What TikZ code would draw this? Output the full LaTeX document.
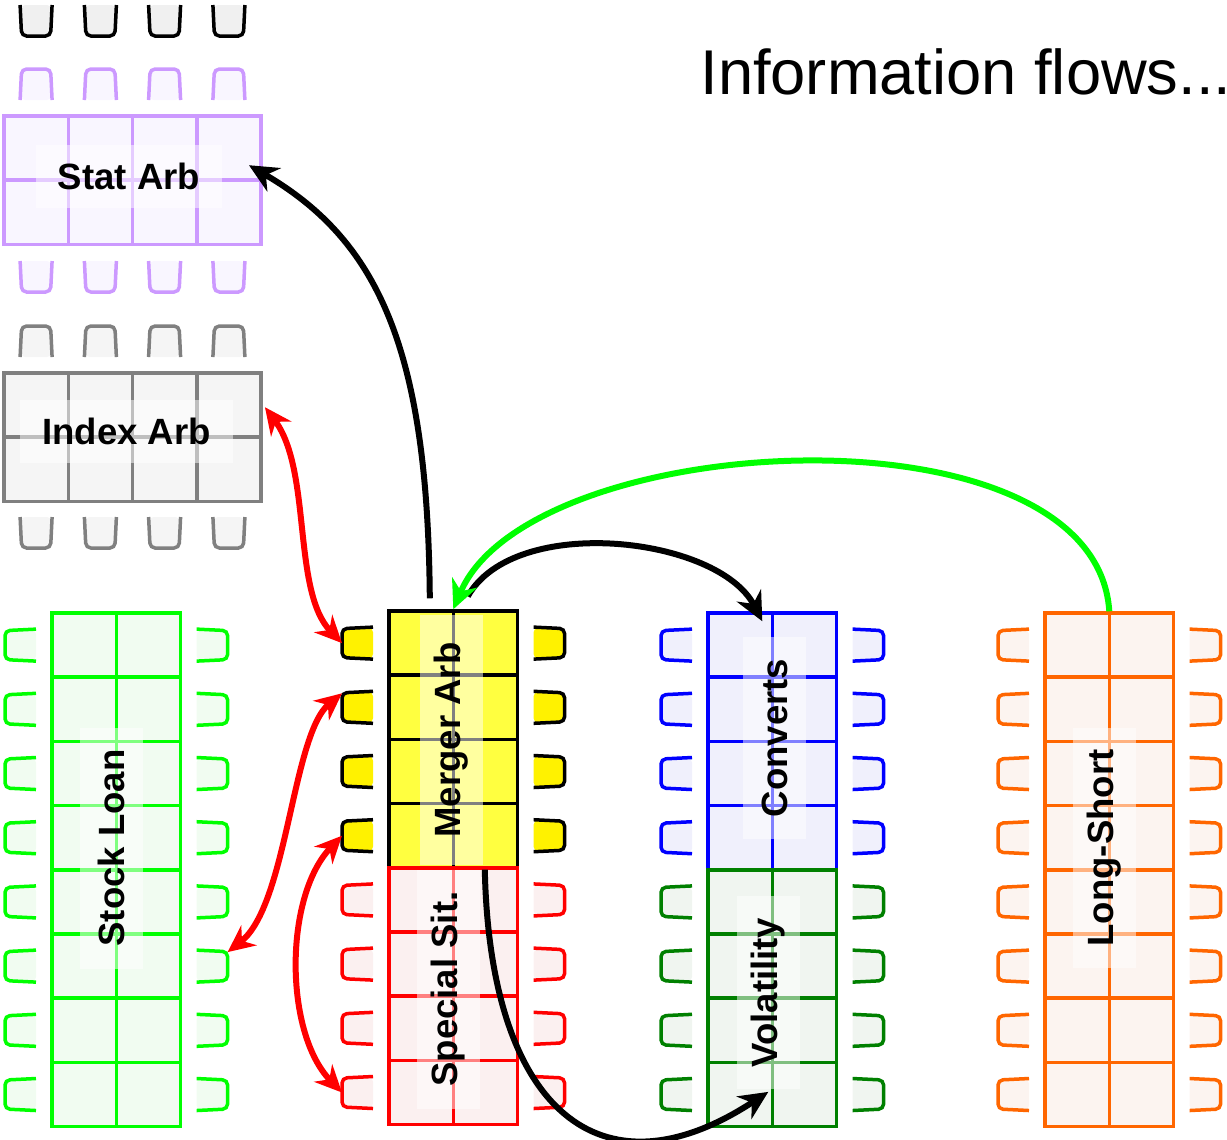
\documentclass[tikz,border=0pt]{standalone}
\usepackage{fontspec}
\setmainfont{Liberation Sans}
\usetikzlibrary{arrows.meta}

\definecolor{statline}{HTML}{CC99FF}
\definecolor{statfill}{HTML}{F9F6FF}
\definecolor{indexline}{HTML}{808080}
\definecolor{indexfill}{HTML}{F5F5F5}
\definecolor{topfill}{HTML}{F0F0F0}
\definecolor{loanline}{HTML}{00FF00}
\definecolor{loanfill}{HTML}{F1FCF1}
\definecolor{mergerfill}{HTML}{FFFF40}
\definecolor{specline}{HTML}{FF0000}
\definecolor{specfill}{HTML}{FBF0F0}
\definecolor{convline}{HTML}{0000FF}
\definecolor{convfill}{HTML}{F0F0FC}
\definecolor{volline}{HTML}{008000}
\definecolor{volfill}{HTML}{F0F5F0}
\definecolor{lsline}{HTML}{FF6600}
\definecolor{lsfill}{HTML}{FCF4F0}
\definecolor{flowgreen}{HTML}{00FF00}

\tikzset{
  desk/.style={rectangle, draw=#1, line width=0.035cm, inner sep=0pt,
    path picture={\draw[#1, line width=0.035cm] (path picture bounding box.south west)
      grid[xstep=0.643, ystep=0.642] (path picture bounding box.north east);}},
  deskname/.style={fill=white, fill opacity=0.5, text opacity=1,
    font=\bfseries\fontsize{10.4}{12}\selectfont, inner xsep=0.22cm, inner ysep=0pt,
    minimum height=0.63cm},
  pics/chair/.style 2 args={code={
    \fill[#2, rounded corners=0.05cm] (0,0.16) -- (-0.31,0.145) -- (-0.31,-0.145) -- (0,-0.16) -- cycle;
    \draw[#1, line width=0.035cm, rounded corners=0.05cm] (0,0.16) -- (-0.31,0.145) -- (-0.31,-0.145) -- (0,-0.16);
    \coordinate (-b) at (-0.31,0);
    \coordinate (-b1) at (-0.31,0.14);
    \coordinate (-b2) at (-0.31,-0.14);
  }},
  flow/.style={line width=0.06cm, -{Stealth[length=0.29cm, width=0.27cm]}},
  link/.style={specline, line width=0.06cm,
    {Stealth[length=0.27cm, width=0.25cm]}-{Stealth[length=0.27cm, width=0.25cm]}}
}

\begin{document}
\begin{tikzpicture}
  \useasboundingbox (0,0) rectangle (12.27,-11.39);

  % desks
  \node[desk=statline, fill=statfill, minimum width=2.572cm, minimum height=1.284cm] (statarb) at (1.326,-1.802) {};
  \node[desk=indexline, fill=indexfill, minimum width=2.572cm, minimum height=1.284cm] (index) at (1.326,-4.372) {};
  \node[desk=loanline, fill=loanfill, minimum width=1.286cm, minimum height=5.136cm] (loan) at (1.163,-8.698) {};
  \node[desk=black, fill=mergerfill, minimum width=1.286cm, minimum height=2.568cm] (merger) at (4.533,-7.394) {};
  \node[desk=specline, fill=specfill, minimum width=1.286cm, minimum height=2.568cm] (spec) at (4.533,-9.962) {};
  \node[desk=convline, fill=convfill, minimum width=1.286cm, minimum height=2.568cm] (conv) at (7.723,-7.414) {};
  \node[desk=volline, fill=volfill, minimum width=1.286cm, minimum height=2.568cm] (vol) at (7.723,-9.982) {};
  \node[desk=lsline, fill=lsfill, minimum width=1.286cm, minimum height=5.136cm] (longshort) at (11.093,-8.698) {};

  % chairs
  \foreach \x in {0.361,1.004,1.646,2.289} {
    \pic[rotate=90] at (\x,-0.05) {chair={black}{topfill}};
    \pic[rotate=-90] at (\x,-1.00) {chair={statline}{statfill}};
    \pic[rotate=90] at (\x,-2.61) {chair={statline}{statfill}};
    \pic[rotate=-90] at (\x,-3.57) {chair={indexline}{indexfill}};
    \pic[rotate=90] at (\x,-5.17) {chair={indexline}{indexfill}};
  }
  \foreach \i in {1,...,8} {
    \pic (lL\i) at (0.36,-5.809-0.642*\i) {chair={loanline}{loanfill}};
    \pic[rotate=180] (lR\i) at (1.966,-5.809-0.642*\i) {chair={loanline}{loanfill}};
    \pic at (10.29,-5.809-0.642*\i) {chair={lsline}{lsfill}};
    \pic[rotate=180] at (11.896,-5.809-0.642*\i) {chair={lsline}{lsfill}};
  }
  \foreach \i in {1,...,4} {
    \pic (mL\i) at (3.73,-5.789-0.642*\i) {chair={black}{yellow}};
    \pic[rotate=180] at (5.336,-5.789-0.642*\i) {chair={black}{yellow}};
    \pic (sL\i) at (3.73,-8.357-0.642*\i) {chair={specline}{specfill}};
    \pic[rotate=180] at (5.336,-8.357-0.642*\i) {chair={specline}{specfill}};
    \pic at (6.92,-5.809-0.642*\i) {chair={convline}{convfill}};
    \pic[rotate=180] at (8.526,-5.809-0.642*\i) {chair={convline}{convfill}};
    \pic at (6.92,-8.377-0.642*\i) {chair={volline}{volfill}};
    \pic[rotate=180] at (8.526,-8.377-0.642*\i) {chair={volline}{volfill}};
  }

  % desk names
  \node[deskname] (statname) at (1.29,-1.76) {Stat Arb};
  \node[deskname] (indexname) at (1.265,-4.315) {Index Arb};
  \node[deskname, rotate=90] (loanname) at (1.115,-8.48) {Stock Loan};
  \node[deskname, rotate=90, minimum width=2.5cm] (mergername) at (4.515,-7.4) {Merger Arb};
  \node[deskname, rotate=90] (specname) at (4.485,-9.89) {Special Sit.};
  \node[deskname, rotate=90] (convname) at (7.745,-7.38) {Converts};
  \node[deskname, rotate=90] (volname) at (7.68,-9.925) {Volatility};
  \node[deskname, rotate=90] (lsname) at (11.04,-8.48) {Long-Short};

  \node[anchor=base west, font=\fontsize{18}{22}\selectfont] (title) at (6.88,-0.94) {Information flows...};

  % flows
  \draw[flow] ([xshift=-0.235cm,yshift=0.11cm]merger.north) .. controls +(-0.02,2.5) and +(1.29,-0.75) .. ([xshift=-0.14cm,yshift=0.15cm]statarb.east);
  \draw[flow] ([xshift=0.145cm,yshift=0.13cm]merger.north) .. controls +(0.47,0.83) and +(-0.44,0.85) .. ([xshift=-0.1cm,yshift=-0.1cm]conv.north);
  \draw[flow] ([xshift=0.315cm]merger.south) .. controls +(0.05,-2.4) and +(-1.68,-1.1) .. ([xshift=-0.04cm,yshift=0.365cm]vol.south);
  \draw[flow, flowgreen] (longshort.north) .. controls +(-0.14,2.13) and +(0.765,1.81) .. (merger.north);
  \draw[link] ([xshift=0.02cm,yshift=0.3cm]index.east) .. controls +(0.47,-0.63) and +(-0.5,0.52) .. (mL1-b);
  \draw[link] (mL2-b1) .. controls +(-0.5,-0.41) and +(0.6,0.47) .. (lR6-b2);
  \draw[link] (mL4-b) .. controls +(-0.58,-0.61) and +(-0.58,0.6) .. (sL4-b);
\end{tikzpicture}
\end{document}
